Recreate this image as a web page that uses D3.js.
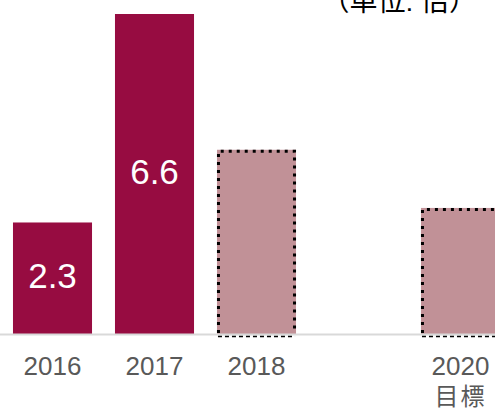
<!DOCTYPE html>
<html>
<head>
<meta charset="utf-8">
<script src="https://cdn.jsdelivr.net/npm/d3@7"></script>
<style>
    body { margin: 0; background: white; }
    svg { display: block; }
    text { font-family: "Liberation Sans", Arial, "Noto Sans CJK JP", sans-serif; }
</style>
</head>
<body>
<div id="chart"></div>
<script>
    // datos
    var years = ["2016", "2017", "2018", "2019", "2020"];
    var values = [2.3, 6.6, 3.8, null, 2.6];
    var labels = ["2.3", "6.6", "", "", ""];
    var isTarget = [false, false, true, false, true];
    var tickLabels = ["2016", "2017", "2018", "", "2020"];
    var subLabels = ["", "", "", "", "目標"];
    var unitText = "（単位: 倍）";

    var width = 495, height = 409;
    var baseline = 334;

    var svg = d3.select("#chart")
        .append("svg")
        .attr("width", width)
        .attr("height", height);

    var x = d3.scaleBand()
        .domain(years)
        .range([1.5, 511.5])
        .paddingInner(0.225)
        .paddingOuter(0.1125);

    var y = d3.scaleLinear()
        .domain([0, 6.6])
        .range([baseline, 14]);

    var details = years.map(function (d, i) {
        return { year: d, value: values[i], label: labels[i], target: isTarget[i] };
    }).filter(function (d) { return d.value != null; });

    var bars = svg.append("g").selectAll("rect").data(details);
    bars.enter().append("rect")
        .attr("x", function (d) { return x(d.year); })
        .attr("y", function (d) { return y(d.value); })
        .attr("width", x.bandwidth())
        .attr("height", function (d) { return y(0) - y(d.value); })
        .attr("fill", function (d) { return d.target ? "#c19197" : "#970c41"; });

    // eje
    svg.append("line")
        .attr("x1", 0).attr("x2", width)
        .attr("y1", baseline + 0.5).attr("y2", baseline + 0.5)
        .attr("stroke", "#d9d9d9")
        .attr("stroke-width", 2);

    // bordes punteados de los objetivos
    var borders = svg.append("g").selectAll("path").data(details.filter(function (d) { return d.target; }));
    borders.enter().append("path")
        .attr("d", function (d) {
            var x0 = x(d.year) + 1.5, x1 = x(d.year) + x.bandwidth() - 1.5;
            var y0 = y(d.value) + 1.5, y1 = y(0) - 1;
            return "M" + x0 + "," + y1 + "V" + y0 + "H" + x1 + "V" + y1;
        })
        .attr("fill", "none")
        .attr("stroke", "black")
        .attr("stroke-width", 3)
        .attr("stroke-dasharray", "3,5");
    var bottoms = svg.append("g").selectAll("line").data(details.filter(function (d) { return d.target; }));
    bottoms.enter().append("line")
        .attr("x1", function (d) { return x(d.year) + 1; })
        .attr("x2", function (d) { return x(d.year) + x.bandwidth() - 1; })
        .attr("y1", baseline + 2.5).attr("y2", baseline + 2.5)
        .attr("stroke", "black")
        .attr("stroke-width", 1.5)
        .attr("stroke-dasharray", "4,3");

    var content = svg.append("g").selectAll("text").data(details.filter(function (d) { return d.label; }));
    content.enter().append("text")
        .attr("x", function (d) { return x(d.year) + x.bandwidth() / 2; })
        .attr("y", function (d) { return (y(d.value) + y(0)) / 2 + 10; })
        .attr("text-anchor", "middle")
        .attr("fill", "white")
        .attr("font-size", 35)
        .text(function (d) { return d.label; });

    var ticks = svg.append("g").selectAll("text").data(years);
    ticks.enter().append("text")
        .attr("x", function (d) { return x(d) + x.bandwidth() / 2; })
        .attr("y", 375)
        .attr("text-anchor", "middle")
        .attr("fill", "#595959")
        .attr("font-size", 26)
        .text(function (d, i) { return tickLabels[i]; });

    var subs = svg.append("g").selectAll("text").data(years);
    subs.enter().append("text")
        .attr("x", function (d) { return x(d) + x.bandwidth() / 2; })
        .attr("y", 405)
        .attr("text-anchor", "middle")
        .attr("fill", "#595959")
        .attr("font-size", 24)
        .attr("font-family", "'Noto Sans CJK JP', sans-serif")
        .attr("letter-spacing", 2)
        .text(function (d, i) { return subLabels[i]; });

    // unidad (cortada arriba como en el original)
    svg.append("text")
        .attr("x", 477)
        .attr("y", 11)
        .attr("text-anchor", "end")
        .attr("fill", "black")
        .attr("font-size", 28)
        .attr("font-family", "'Noto Sans CJK JP', sans-serif")
        .text(unitText);
</script>
</body>
</html>
